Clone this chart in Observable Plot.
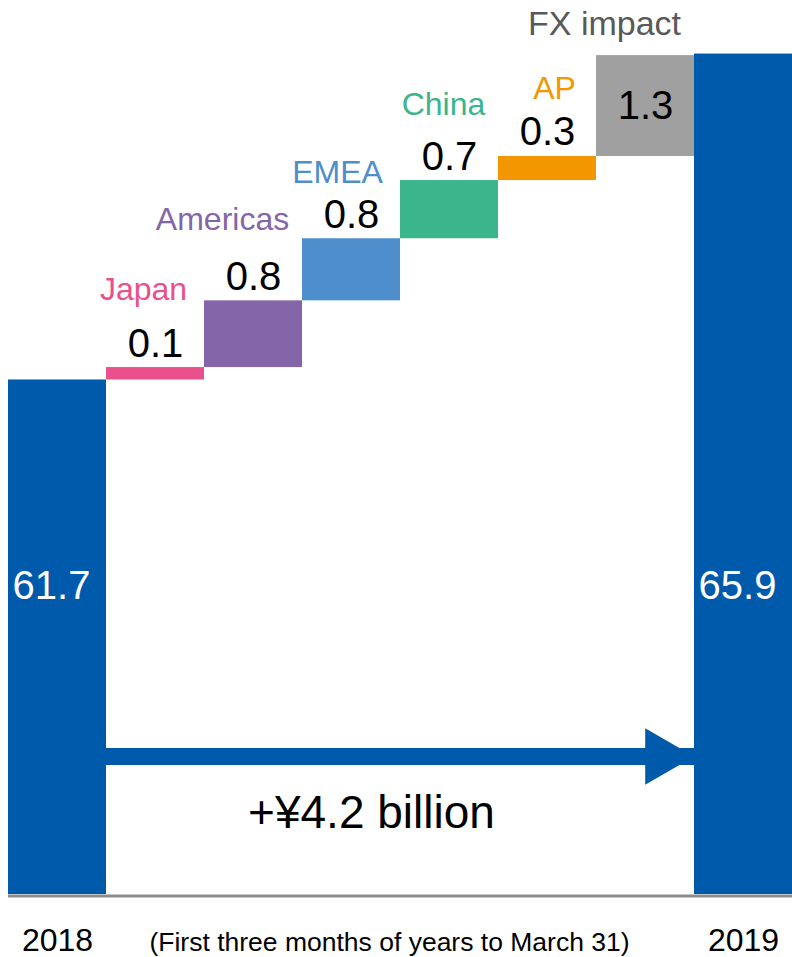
<!DOCTYPE html>
<html>
<head>
<meta charset="utf-8">
<script src="https://cdn.jsdelivr.net/npm/d3@7"></script>
<script src="https://cdn.jsdelivr.net/npm/@observablehq/plot@0.6"></script>
<style>
  html, body { margin: 0; padding: 0; background: #fff; }
  svg { display: block; }
</style>
</head>
<body>
<div id="chart"></div>
<script>
// ---- data ----
const years = ["2018", "2019"];
const totals = [61.7, 65.9];
const totalLabels = ["61.7", "65.9"];
const regions = ["Japan", "Americas", "EMEA", "China", "AP", "FX impact"];
const changes = [0.16, 0.86, 0.80, 0.75, 0.31, 1.30];
const changeLabels = ["0.1", "0.8", "0.8", "0.7", "0.3", "1.3"]; // as printed
const differenceLabel = "+¥4.2 billion";
const caption = "(First three months of years to March 31)";
const axisRange = [55.07, 66.59]; // truncated value axis

// ---- styles / layout ----
const palette = {
  "2018": "#005AAB", "2019": "#005AAB",
  "Japan": "#E9508C", "Americas": "#8565A9", "EMEA": "#4E8ECC",
  "China": "#3BB58C", "AP": "#F39700", "FX impact": "#A0A0A0"
};
const nameNudge = {
  "Japan": [-12, -68], "Americas": [-31, -71], "EMEA": [-14, -56],
  "China": [-6, -66], "AP": [7, -57], "FX impact": [-41, -21]
};
const font = "'Liberation Sans', Arial, Helvetica, sans-serif";

// ---- derived tables ----
const order = [years[0], ...regions, years[1]];
let run = totals[0];
const steps = regions.map((r, i) => {
  const y1 = run; run += changes[i];
  return {cat: r, y1, y2: run, label: changeLabels[i], color: palette[r]};
});
const totalRows = years.map((yr, i) => ({cat: yr, y1: axisRange[0], y2: totals[i], label: totalLabels[i]}));
const arrowRows = [{from: regions[0], to: regions[regions.length - 1], level: axisRange[0], head: years[1]}];

const nameMarks = steps.map(d => Plot.text([d], {
  x: "cat", y: "y2", text: "cat", fill: d.cat === "FX impact" ? "#595959" : d.color,
  fontSize: d.cat === "FX impact" ? 34 : 32, lineAnchor: "bottom",
  dx: nameNudge[d.cat][0], dy: nameNudge[d.cat][1]
}));

const chart = Plot.plot({
  width: 792,
  height: 957,
  marginLeft: 8, marginRight: 0, marginTop: 0, marginBottom: 63,
  x: {domain: order, padding: 0, axis: null},
  y: {domain: axisRange, axis: null},
  color: {type: "identity"},
  style: {fontFamily: font, background: "#fff", overflow: "visible"},
  marks: [
    Plot.barY(totalRows, {x: "cat", y1: "y1", y2: "y2", fill: palette["2018"]}),
    Plot.barY(steps, {x: "cat", y1: "y1", y2: "y2", fill: "color"}),
    Plot.ruleY([axisRange[0]], {stroke: "#8c8c8c", strokeWidth: 3, dy: 1.5}),
    // arrow shaft + head
    Plot.ruleY(arrowRows, {x1: "from", x2: "to", y: "level", dy: -138, stroke: palette["2018"], strokeWidth: 17}),
    Plot.dot(arrowRows, {x: "head", frameAnchor: "bottom", dy: -138, dx: -82, symbol: "triangle", r: 21, rotate: 90, fill: palette["2018"], stroke: "none"}),
    // value labels
    Plot.text(steps.filter(d => d.cat !== "FX impact"), {x: "cat", y: "y2", text: "label", dy: -11, lineAnchor: "bottom", fontSize: 40, fill: "#000"}),
    Plot.text(steps.filter(d => d.cat === "FX impact"), {x: "cat", y: d => (d.y1 + d.y2) / 2, text: "label", lineAnchor: "middle", fontSize: 40, fill: "#000"}),
    ...nameMarks,
    Plot.text(totalRows, {x: "cat", text: "label", frameAnchor: "bottom", dy: -296, dx: -6, lineAnchor: "bottom", fontSize: 40, fill: "#fff"}),
    Plot.text([differenceLabel], {frameAnchor: "bottom", dx: -29, dy: -67, lineAnchor: "bottom", fontSize: 46, fill: "#000"}),
    // bottom labels
    Plot.text(years, {x: d => d, frameAnchor: "bottom", dy: 56, lineAnchor: "bottom", fontSize: 32, fill: "#000"}),
    Plot.text([caption], {frameAnchor: "bottom", dx: -11, dy: 56, lineAnchor: "bottom", fontSize: 26.5, fill: "#000"})
  ]
});
document.getElementById("chart").append(chart);
</script>
</body>
</html>
